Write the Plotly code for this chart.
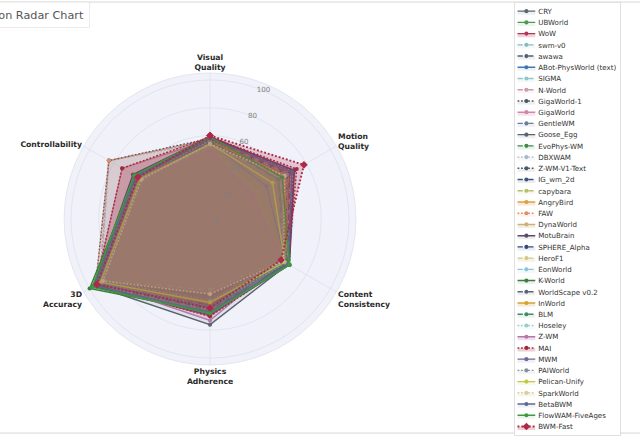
import plotly.graph_objects as go

# the axes of the radar, clockwise from the top
categories = ["Visual<br>Quality", "Motion<br>Quality", "Content<br>Consistency",
              "Physics<br>Adherence", "3D<br>Accuracy", "Controllability"]

models = ["CRY", "UBWorld", "WoW", "swm-v0", "awawa", "ABot-PhysWorld (text)", "SIGMA",
          "N-World", "GigaWorld-1", "GigaWorld", "GentleWM", "Goose_Egg", "EvoPhys-WM",
          "DBXWAM", "Z-WM-V1-Text", "IG_wm_2d", "capybara", "AngryBird", "FAW", "DynaWorld",
          "MotuBrain", "SPHERE_Alpha", "HeroF1", "EonWorld", "K-World", "WorldScape v0.2",
          "InWorld", "BLM", "Hoseley", "Z-WM", "MAI", "MWM", "PAIWorld", "Pelican-Unify",
          "SparkWorld", "BetaBWM", "FlowWAM-FiveAges", "BWM-Fast"]

visual_quality = [57, 58, 59, 55, 56, 56, 54, 57, 58, 57, 58, 59, 55, 56, 58, 57, 52, 58, 57,
                  56, 59, 57, 53, 55, 58, 57, 56, 56, 54, 49, 59, 55, 57, 54, 54, 58, 59, 60]
motion_quality = [64, 62, 66, 60, 63, 61, 58, 65, 67, 64, 66, 70, 56, 68, 69, 63, 40, 65, 67,
                  62, 70, 64, 60, 59, 57, 66, 63, 57, 61, 35, 72, 47, 64, 52, 62, 68, 60, 78]
content_consistency = [62, 63, 61, 60, 62, 60, 59, 64, 63, 62, 64, 65, 60, 64, 66, 62, 58, 63, 64,
                       61, 66, 62, 59, 60, 64, 65, 62, 61, 60, 60, 65, 63, 63, 62, 61, 65, 66, 59]
physics_adherence = [62, 66, 60, 58, 64, 63, 57, 67, 65, 70, 66, 76, 61, 62, 68, 62, 55, 64, 66,
                     60, 69, 62, 51, 58, 67, 65, 61, 63, 59, 73, 70, 64, 63, 60, 54, 67, 68, 64]
accuracy_3d = [93, 96, 91, 90, 94, 86, 89, 92, 93, 95, 94, 96, 95, 91, 95, 92, 90, 93, 95,
               91, 97, 92, 88, 90, 100, 94, 93, 94, 89, 92, 95, 93, 92, 91, 89, 96, 98, 94]
controllability = [58, 61, 62, 56, 59, 57, 55, 84, 60, 73, 62, 63, 59, 84, 84, 60, 56, 60, 84,
                   58, 64, 59, 56, 57, 62, 61, 59, 60, 57, 58, 73, 60, 59, 58, 57, 62, 63, 60]

radial_ticks = [0, 20, 40, 60, 80, 100]

# styles
colors = ["#5b6770", "#4e9a52", "#b5345a", "#86bcc4", "#56606a", "#3f78b0", "#8ec8c8",
          "#d09aa8", "#4f5560", "#d585a8", "#6b7d9e", "#5c6470", "#3f8a4a", "#a8b8c8",
          "#4c5866", "#3f5478", "#b5c268", "#e0a040", "#e28d6a", "#c8b47a", "#5a4c68",
          "#34487a", "#d4c88a", "#8cc4d8", "#3e7d40", "#5a6474", "#d8a030", "#3c8c6c",
          "#9ccccc", "#b676aa", "#a3283e", "#6c6a9c", "#8a8f98", "#c2c83e", "#d8d0a0",
          "#5a6896", "#3f9a3f", "#b02848"]
dashes = ["solid", "solid", "solid", "dashdot", "dash", "solid", "dash", "dashdot", "dot",
          "solid", "dash", "solid", "dash", "dot", "dot", "dash", "dash", "solid", "dot",
          "solid", "solid", "dash", "dash", "dashdot", "solid", "dash", "solid", "dash", "dot",
          "solid", "dot", "solid", "dot", "solid", "dot", "solid", "solid", "dot"]
symbols = ["circle"] * 37 + ["diamond"]
warm = {"WoW", "GigaWorld", "AngryBird", "DynaWorld", "HeroF1", "InWorld",
        "Z-WM", "MAI", "SparkWorld", "BWM-Fast"}


def to_rgba(hex_color, alpha):
    h = hex_color.lstrip("#")
    r, g, b = int(h[0:2], 16), int(h[2:4], 16), int(h[4:6], 16)
    return "rgba({},{},{},{})".format(r, g, b, alpha)


fig = go.Figure()

for i, name in enumerate(models):
    values = [visual_quality[i], motion_quality[i], content_consistency[i],
              physics_adherence[i], accuracy_3d[i], controllability[i]]
    last = i == len(models) - 1
    fig.add_trace(go.Scatterpolar(
        r=values + values[:1],
        theta=categories + categories[:1],
        name=name,
        mode="lines+markers",
        fill="toself",
        fillcolor=to_rgba(colors[i], 0.22 if name in warm else 0.1),
        line=dict(color=colors[i], width=3.2 if last else 2.4, dash=dashes[i]),
        marker=dict(color=colors[i], size=10 if last else 7, symbol=symbols[i]),
    ))

grid = "#d6d9e8"
fig.update_layout(
    width=1083, height=738,
    margin=dict(l=0, r=0, t=0, b=0),
    paper_bgcolor="white",
    font=dict(family="DejaVu Sans"),
    showlegend=True,
    polar=dict(
        domain=dict(x=[0.1001, 0.5564], y=[0.1629, 0.8325]),
        bgcolor="#f0f1f9",
        radialaxis=dict(range=[0, 105], tickvals=radial_ticks, angle=72, tickangle=72,
                        showline=False, gridcolor=grid,
                        tickfont=dict(size=12, color="#808080")),
        angularaxis=dict(direction="clockwise", rotation=90, gridcolor=grid, linecolor=grid,
                         tickfont=dict(size=13, color="#2a2a2a", weight="bold")),
    ),
    legend=dict(x=0.8033, y=0.9954, xanchor="left", yanchor="top", bgcolor="white",
                bordercolor="#cccccc", borderwidth=1,
                font=dict(size=12, color="#333333")),
)

# frame of the page and the boxed title, cut at the left edge as in the screenshot
fig.add_shape(type="line", xref="paper", yref="paper", x0=-0.01, x1=1.01, y0=0.9954, y1=0.9954,
              line=dict(color="#d0d0d0", width=1.5))
fig.add_shape(type="line", xref="paper", yref="paper", x0=-0.01, x1=1.01, y0=0.0068, y1=0.0068,
              line=dict(color="#d0d0d0", width=1.5))
fig.add_annotation(text="Model Comparison Radar Chart", xref="paper", yref="paper",
                   x=0.1406, y=0.9954, xanchor="right", yanchor="top", showarrow=False,
                   font=dict(size=19, color="#555555"), bgcolor="white",
                   bordercolor="#dddddd", borderwidth=1, borderpad=10)

# the original was a larger image shown downscaled: shrink the page to the window
post = ("var d=document.getElementById('{plot_id}');"
        "d.style.transformOrigin='0 0';d.style.transform='scale(0.5908)';"
        "document.body.style.margin='0';document.body.style.overflow='hidden';"
        "document.documentElement.style.overflow='hidden';")

fig.write_html("out.html", post_script=post, config={"displayModeBar": False})
